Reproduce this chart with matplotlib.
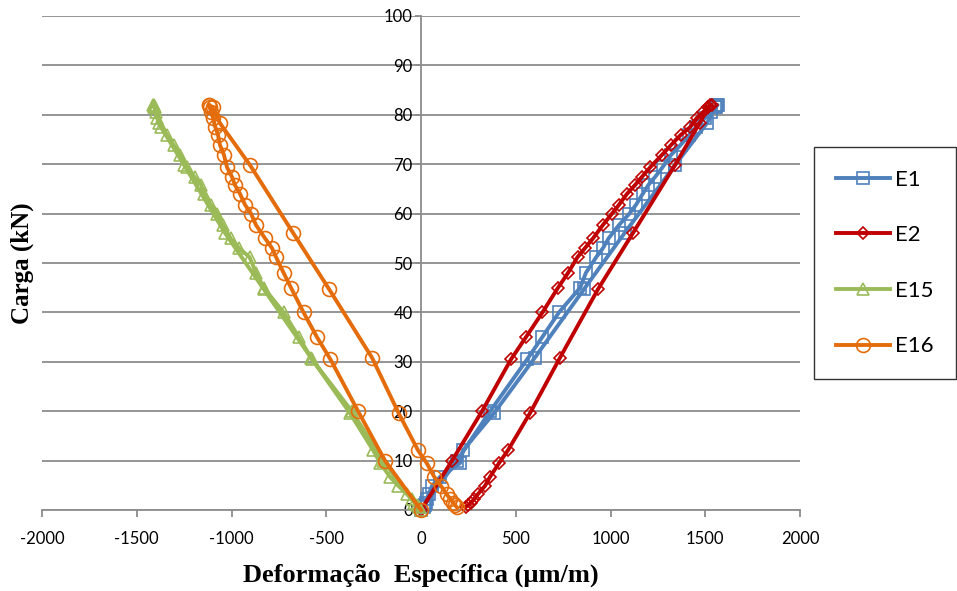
import matplotlib
matplotlib.use("Agg")
import matplotlib.pyplot as plt

# Load steps (kN): loading branch and unloading branch
LOAD_UP = [0, 10, 20, 30.5, 35, 40, 45, 48, 51.2, 53, 55, 57.7, 60, 61.8, 64,
           65.8, 67.4, 69.4, 71.9, 73.9, 75.9, 77.5, 79.4, 80.6, 81.5, 82]
LOAD_DOWN = [82, 81.5, 78.3, 69.8, 56.1, 44.7, 30.8, 19.6, 12.1, 9.5, 6.7, 4.9,
             3.2, 2.2, 1.5, 1.0, 0.6]

# Strain readings (µm/m) for each gauge
E1_UP = [0, 190, 365, 560, 640, 728, 840, 870, 925, 960, 990, 1045, 1100, 1135,
         1170, 1200, 1235, 1275, 1320, 1370, 1415, 1450, 1500, 1530, 1550, 1560]
E1_DOWN = [1565, 1555, 1509, 1340, 1075, 860, 600, 385, 222, 206, 100, 58,
           40, 30, 25, 20, 18]

E2_UP = [0, 164, 322, 475, 554, 641, 723, 776, 826, 865, 908, 960, 1008, 1045,
         1087, 1130, 1165, 1210, 1272, 1320, 1370, 1420, 1456, 1490, 1515, 1525]
E2_DOWN = [1535, 1515, 1470, 1340, 1119, 934, 733, 575, 459, 412, 364, 338,
           300, 280, 265, 250, 235]

E15_UP = [0, -200, -365, -575, -645, -725, -830, -870, -905, -960, -1005, -1045,
          -1075, -1110, -1145, -1160, -1195, -1235, -1270, -1305, -1340, -1370,
          -1392, -1400, -1408, -1410]
E15_DOWN = [-1412, -1405, -1385, -1250, -1035, -830, -580, -375, -253, -215,
            -164, -120, -74, -50, -35, -20, -10]

E16_UP = [0, -190, -332, -478, -549, -620, -686, -725, -765, -786, -823, -871,
          -897, -929, -955, -982, -997, -1024, -1040, -1061, -1071, -1085,
          -1098, -1108, -1115, -1118]
E16_DOWN = [-1119, -1100, -1061, -902, -675, -485, -258, -118, -16, 30, 70,
            105, 135, 155, 170, 180, 188]

SERIES = ["E1", "E2", "E15", "E16"]
COLORS = ["#4F81BD", "#C00000", "#9BBB59", "#E46C0A"]
MARKERS = ["s", "D", "^", "o"]
MSIZES = [9, 6.5, 9, 10]

X_TICKS = [-2000, -1500, -1000, -500, 0, 500, 1000, 1500, 2000]
Y_TICKS = [0, 10, 20, 30, 40, 50, 60, 70, 80, 90, 100]

tick_font = "Lato"
title_font = "Liberation Serif"

fig = plt.figure(figsize=(9.57, 5.91), dpi=100)
ax = fig.add_axes([42 / 957, 81 / 591, 758 / 957, 494 / 591])

data = [(E1_UP, E1_DOWN), (E2_UP, E2_DOWN), (E15_UP, E15_DOWN), (E16_UP, E16_DOWN)]
for name, (up, down), c, m, ms in zip(SERIES, data, COLORS, MARKERS, MSIZES):
    ax.plot(up + down, LOAD_UP + LOAD_DOWN, color=c, lw=2.8, marker=m,
            markersize=ms, markerfacecolor="none", markeredgecolor=c,
            markeredgewidth=1.2, label=name, clip_on=False, zorder=3)

grid_c = "#8C8C8C"
for s in ["top", "right"]:
    ax.spines[s].set_visible(False)
ax.spines["left"].set_position(("data", 0))
ax.spines["bottom"].set_position(("data", 0))
for s in ["left", "bottom"]:
    ax.spines[s].set_color(grid_c)
    ax.spines[s].set_linewidth(1.3)

ax.set_xlim(-2000, 2000)
ax.set_ylim(0, 100)
ax.set_xticks(X_TICKS, [str(v) for v in X_TICKS])
ax.set_yticks(Y_TICKS, [str(v) for v in Y_TICKS])

ax.yaxis.grid(True, color=grid_c, lw=1.3, zorder=0)
ax.set_axisbelow(True)

ax.tick_params(axis="x", direction="out", length=5, width=1.3, color=grid_c,
               pad=10, labelcolor="black", labelsize=12,
               labelfontfamily=tick_font)
ax.tick_params(axis="y", direction="out", length=4, width=1.3, color=grid_c,
               pad=2, labelcolor="black", labelsize=12,
               labelfontfamily=tick_font)

fig.text(22 / 957, 1 - 263 / 591, "Carga (kN)", rotation=90, ha="center",
         va="center", fontfamily=title_font, fontweight="bold", fontsize=18)
fig.text(421 / 957, 1 - 575 / 591, "Deformação  Específica (µm/m)", ha="center",
         va="center", fontfamily=title_font, fontweight="bold", fontsize=19)

leg = ax.legend(loc="center left", bbox_to_anchor=(814 / 957, 1 - 263 / 591),
                bbox_transform=fig.transFigure, frameon=True, fancybox=False,
                prop={"family": tick_font, "size": 16}, labelspacing=1.6,
                handlelength=2.4, handletextpad=0.25, borderpad=1.0,
                borderaxespad=0)
leg.get_frame().set_edgecolor("black")
leg.get_frame().set_linewidth(1.0)

fig.savefig("out.png", dpi=100)
